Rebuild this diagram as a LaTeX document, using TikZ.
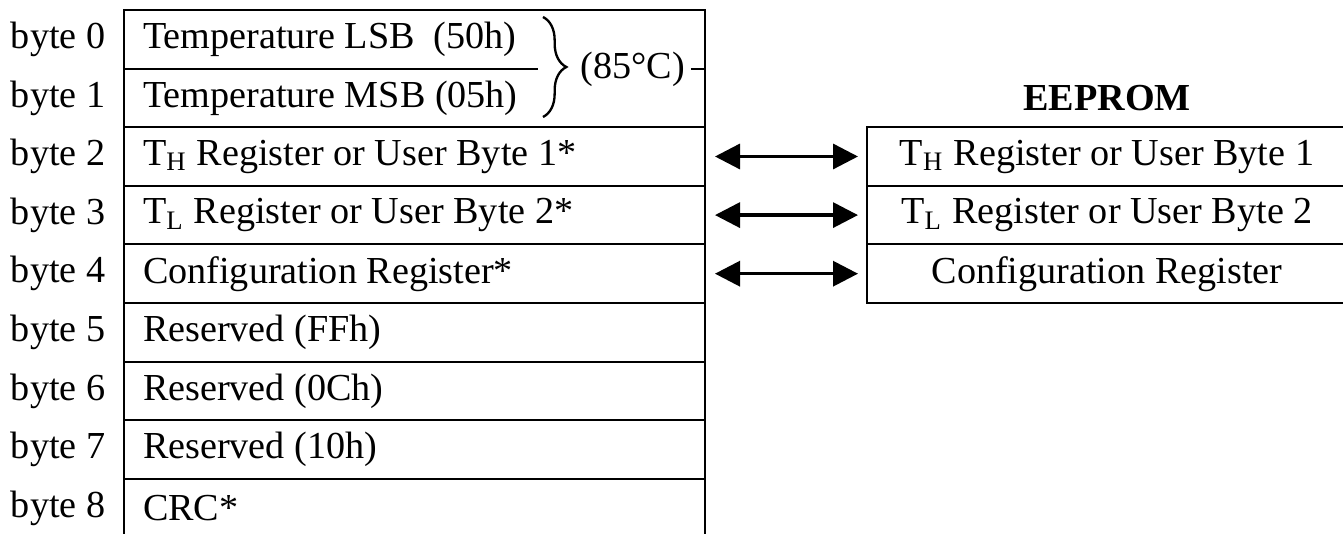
\documentclass[tikz,border=0pt]{standalone}
\usepackage{fontspec}
\setmainfont{Liberation Serif}
\usetikzlibrary{positioning, calc, arrows.meta, decorations.pathreplacing}

\tikzset{
	frame/.style={line width=0.6pt},
	cell/.style={minimum width=174.3pt, minimum height=17.58pt, text width=162.9pt, inner xsep=5.7pt, inner ysep=0pt, outer sep=0pt, align=flush left},
	rom/.style={draw, line width=0.6pt, minimum width=144pt, minimum height=17.58pt, inner sep=0pt, outer sep=0pt, align=center},
	link/.style={{Triangle[length=7.5pt,width=7.5pt]}-{Triangle[length=7.5pt,width=7.5pt]}, line width=1pt, shorten <=3pt, shorten >=2.7pt},
}

\begin{document}
\begin{tikzpicture}[x=0.3pt, y=-0.3pt, font=\fontsize{11.45}{13.5}\selectfont]
	\useasboundingbox (0,0) rectangle (1343,534);

	% scratchpad
	\node[cell, anchor=north west] (r0) at (124,10) {Temperature LSB\ \ (50h)};
	\node[cell, below=0pt of r0] (r1) {Temperature MSB (05h)};
	\node[cell, below=0pt of r1] (r2) {T\textsubscript{H} Register or User Byte 1*};
	\node[cell, below=0pt of r2] (r3) {T\textsubscript{L} Register or User Byte 2*};
	\node[cell, below=0pt of r3] (r4) {Configuration Register*};
	\node[cell, below=0pt of r4] (r5) {Reserved (FFh)};
	\node[cell, below=0pt of r5] (r6) {Reserved (0Ch)};
	\node[cell, below=0pt of r6] (r7) {Reserved (10h)};
	\node[cell, below=0pt of r7] (r8) {CRC*};
	\foreach \i in {0,...,8}
		\node[left=5.4pt of r\i.west, inner sep=0pt] (b\i) {byte \i};

	\draw[frame] ([yshift=-3pt]r8.south west) -- (r0.north west) -- (r0.north east) -- ([yshift=-3pt]r8.south east);
	\draw[frame] (r1.north west) -- ++(414,0);
	\foreach \i in {2,...,8}
		\draw[frame] (r\i.north west) -- (r\i.north east);

	% 85 degrees
	\draw[line width=0.7pt, decorate, decoration={brace, amplitude=7pt}] (543,17) -- (543,117);
	\node[inner sep=1.5pt] (temp) at (633,69) {(85°C)};
	\draw[frame] (temp.east) -- (temp.east -| r0.east);

	% eeprom
	\node[rom, right=48.6pt of r2] (e2) {T\textsubscript{H} Register or User Byte 1};
	\node[rom, below=0pt of e2] (e3) {T\textsubscript{L} Register or User Byte 2};
	\node[rom, below=0pt of e3] (e4) {Configuration Register};
	\node[above=4.8pt of e2, inner sep=0pt, font=\fontsize{11.45}{13.5}\selectfont\bfseries] (eeprom) {EEPROM};

	\draw[link] (r2) -- (e2);
	\draw[link] (r3) -- (e3);
	\draw[link] (r4) -- (e4);
\end{tikzpicture}
\end{document}
